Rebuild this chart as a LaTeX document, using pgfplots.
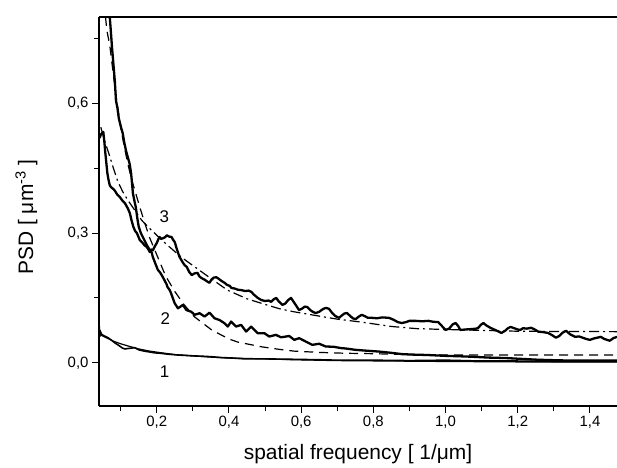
\documentclass[border=0pt]{standalone}
\usepackage{pgfplots}
\pgfplotsset{compat=1.18}
\usepackage{fontspec}
\setmainfont{Liberation Sans}

\pgfplotstableread{
x y
0.066 0.85
0.070 0.798
0.073 0.765
0.076 0.73
0.080 0.69
0.084 0.65
0.087 0.607
0.091 0.59
0.095 0.565
0.101 0.545
0.106 0.53
0.110 0.51
0.115 0.49
0.120 0.475
0.125 0.46
0.129 0.438
0.132 0.41
0.134 0.392
0.138 0.375
0.142 0.36
0.146 0.335
0.150 0.315
0.156 0.30
0.162 0.29
0.168 0.28
0.174 0.27
0.180 0.262
0.186 0.255
0.189 0.245
0.195 0.232
0.203 0.215
0.210 0.208
0.217 0.198
0.222 0.19
0.227 0.182
0.230 0.175
0.236 0.168
0.240 0.16
0.2497 0.1377
0.2588 0.126
0.2726 0.134
0.282 0.122
0.2957 0.118
0.305 0.111
0.3187 0.1147
0.3325 0.107
0.3462 0.116
0.360 0.103
0.3738 0.099
0.3876 0.0915
0.3967 0.0838
0.406 0.0953
0.420 0.0838
0.4337 0.0877
0.4475 0.0723
0.4613 0.0838
0.4795 0.0685
0.498 0.0685
0.5118 0.0607
0.5303 0.0646
0.544 0.059
0.553 0.060
0.567 0.062
0.581 0.053
0.5946 0.057
0.613 0.049
0.631 0.0415
0.650 0.044
0.668 0.0377
0.690 0.037
0.710 0.034
0.724 0.033
0.750 0.030
0.780 0.028
0.815 0.026
0.850 0.023
0.880 0.020
0.906 0.019
0.950 0.018
1.000 0.016
1.040 0.015
1.072 0.014
1.120 0.012
1.166 0.011
1.210 0.009
1.257 0.007
1.300 0.006
1.350 0.005
1.400 0.005
1.475 0.005
}\curvetwo

\pgfplotstableread{
x y
0.042 0.52
0.045 0.528
0.049 0.532
0.052 0.534
0.055 0.51
0.057 0.49
0.060 0.465
0.063 0.44
0.066 0.425
0.070 0.41
0.075 0.405
0.080 0.402
0.084 0.398
0.090 0.39
0.098 0.383
0.105 0.375
0.112 0.369
0.120 0.357
0.1255 0.346
0.130 0.33
0.135 0.315
0.140 0.305
0.145 0.30
0.150 0.29
0.153 0.284
0.160 0.278
0.166 0.272
0.172 0.268
0.177 0.262
0.181 0.256
0.185 0.262
0.189 0.26
0.195 0.27
0.200 0.277
0.204 0.285
0.208 0.291
0.212 0.287
0.217 0.288
0.222 0.29
0.228 0.295
0.234 0.292
0.241 0.291
0.245 0.285
0.250 0.279
0.256 0.262
0.263 0.245
0.270 0.235
0.277 0.226
0.283 0.222
0.290 0.21
0.297 0.203
0.305 0.207
0.313 0.208
0.318 0.20
0.324 0.196
0.333 0.192
0.340 0.188
0.346 0.185
0.352 0.193
0.358 0.197
0.365 0.198
0.372 0.194
0.380 0.189
0.388 0.185
0.395 0.18
0.402 0.178
0.407 0.173
0.415 0.172
0.425 0.169
0.435 0.168
0.445 0.166
0.455 0.167
0.462 0.164
0.470 0.157
0.480 0.15
0.490 0.145
0.500 0.143
0.510 0.144
0.517 0.141
0.524 0.147
0.531 0.15
0.538 0.142
0.548 0.134
0.556 0.137
0.564 0.145
0.572 0.15
0.580 0.14
0.588 0.13
0.594 0.122
0.602 0.125
0.610 0.13
0.617 0.129
0.625 0.122
0.632 0.118
0.640 0.115
0.650 0.118
0.660 0.124
0.668 0.127
0.677 0.125
0.686 0.115
0.695 0.108
0.705 0.104
0.712 0.109
0.720 0.114
0.727 0.115
0.735 0.109
0.743 0.103
0.751 0.101
0.760 0.107
0.768 0.111
0.776 0.108
0.785 0.104
0.796 0.104
0.810 0.103
0.825 0.105
0.843 0.104
0.855 0.10
0.868 0.094
0.879 0.092
0.890 0.094
0.900 0.097
0.917 0.097
0.935 0.096
0.953 0.097
0.965 0.095
0.980 0.094
0.990 0.085
1.000 0.076
1.010 0.079
1.020 0.089
1.028 0.092
1.035 0.085
1.041 0.076
1.055 0.077
1.072 0.078
1.085 0.079
1.091 0.081
1.098 0.088
1.105 0.092
1.112 0.087
1.124 0.081
1.140 0.075
1.155 0.069
1.165 0.074
1.173 0.08
1.180 0.083
1.190 0.08
1.200 0.077
1.207 0.076
1.215 0.08
1.225 0.079
1.237 0.081
1.245 0.078
1.257 0.072
1.270 0.071
1.284 0.069
1.295 0.064
1.306 0.058
1.315 0.062
1.325 0.07
1.334 0.074
1.345 0.066
1.359 0.06
1.370 0.061
1.380 0.058
1.390 0.055
1.400 0.053
1.410 0.056
1.420 0.058
1.430 0.06
1.440 0.055
1.455 0.051
1.465 0.057
1.475 0.06
}\curvethree

\pgfplotstableread{
x y
0.0405 0.085
0.042 0.06
0.044 0.072
0.048 0.065
0.055 0.062
0.065 0.058
0.075 0.052
0.084 0.046
0.095 0.040
0.105 0.034
0.112 0.032
0.120 0.033
0.130 0.034
0.139 0.035
0.150 0.030
0.165 0.027
0.180 0.025
0.194 0.023
0.210 0.022
0.230 0.020
0.258 0.018
0.280 0.017
0.300 0.016
0.330 0.015
0.352 0.014
0.380 0.012
0.410 0.011
0.443 0.009
0.500 0.009
0.580 0.008
0.650 0.007
0.700 0.006
0.800 0.006
0.900 0.005
1.000 0.006
1.100 0.004
1.200 0.004
1.300 0.003
1.400 0.003
1.475 0.003
}\curveone

\pgfplotstableread{
x y
0.043 0.065
0.060 0.058
0.080 0.050
0.100 0.044
0.120 0.039
0.150 0.032
0.180 0.027
0.214 0.023
0.250 0.019
0.300 0.016
0.350 0.013
0.400 0.011
0.500 0.009
0.580 0.007
0.700 0.005
0.850 0.004
1.000 0.003
1.200 0.002
1.475 0.002
}\fitone

\pgfplotstableread{
x y
0.058 0.80
0.062 0.768
0.070 0.734
0.080 0.665
0.090 0.60
0.100 0.545
0.110 0.50
0.120 0.46
0.130 0.425
0.139 0.40
0.153 0.36
0.167 0.323
0.180 0.29
0.200 0.25
0.225 0.20
0.250 0.165
0.275 0.135
0.305 0.106
0.352 0.076
0.400 0.055
0.424 0.048
0.490 0.037
0.540 0.031
0.580 0.027
0.650 0.024
0.724 0.022
0.800 0.021
0.900 0.019
1.000 0.018
1.200 0.018
1.475 0.018
}\fittwo

\pgfplotstableread{
x y
0.045 0.545
0.055 0.515
0.065 0.49
0.080 0.45
0.092 0.42
0.105 0.397
0.120 0.376
0.140 0.352
0.158 0.33
0.175 0.315
0.194 0.30
0.210 0.287
0.230 0.272
0.260 0.25
0.280 0.237
0.305 0.222
0.350 0.195
0.396 0.168
0.450 0.148
0.500 0.135
0.540 0.125
0.580 0.118
0.650 0.108
0.700 0.101
0.768 0.094
0.850 0.084
0.920 0.079
1.000 0.077
1.100 0.075
1.200 0.073
1.300 0.0725
1.475 0.072
}\fitthree

\begin{document}
\begin{tikzpicture}
\begin{axis}[
  name=ax,
  at={(0,0)}, anchor=south west,
  scale only axis, width=518bp, height=389bp,
  xmin=0.04, xmax=1.475, ymin=-0.1, ymax=0.8,
  axis lines*=left,
  axis line style={-, line width=1.3bp},
  xtick={0.2,0.4,0.6,0.8,1.0,1.2,1.4},
  minor xtick={0.1,0.3,0.5,0.7,0.9,1.1,1.3},
  ytick={0,0.3,0.6},
  minor ytick={0.15,0.45,0.75},
  xtick pos=left, ytick pos=left,
  tick align=outside,
  major tick length=7bp, minor tick length=4.5bp,
  every tick/.style={black, line width=1bp},
  tick label style={font=\fontsize{15}{15}\selectfont},
  /pgf/number format/.cd, use comma, fixed, fixed zerofill, precision=1, assume math mode=true,
  /pgfplots/.cd,
  xlabel={spatial frequency [ 1/μm]},
  ylabel={PSD [ μm\textsuperscript{-3} ]},
  label style={font=\fontsize{21}{21}\selectfont},
  xlabel style={at={(axis description cs:0.5,-0.1388)}, anchor=base},
  ylabel style={at={(axis description cs:-0.1274,0.486)}, anchor=base, rotate=0},
]
\addplot[black, line width=1.2bp, dash pattern=on 10bp off 4bp on 2bp off 4bp] table {\fitthree};
\addplot[black, line width=1.2bp, dash pattern=on 9bp off 6bp] table {\fittwo};
\addplot[black, line width=1.2bp] table {\fitone};
\addplot[black, line width=1.6bp] table {\curveone};
\addplot[black, line width=2.3bp, line join=round] table {\curvetwo};
\addplot[black, line width=2.3bp, line join=round] table {\curvethree};
\node[font=\fontsize{17}{17}\selectfont] at (axis cs:0.2207,0.338) {3};
\node[font=\fontsize{17}{17}\selectfont] at (axis cs:0.2235,0.1027) {2};
\node[font=\fontsize{17}{17}\selectfont] at (axis cs:0.222,-0.0196) {1};
\end{axis}
\draw[line width=1.3bp] (ax.north west) -- (ax.north east);
\pgfresetboundingbox
\path (-99bp,-62bp) rectangle (518bp,406bp);
\end{tikzpicture}
\end{document}
